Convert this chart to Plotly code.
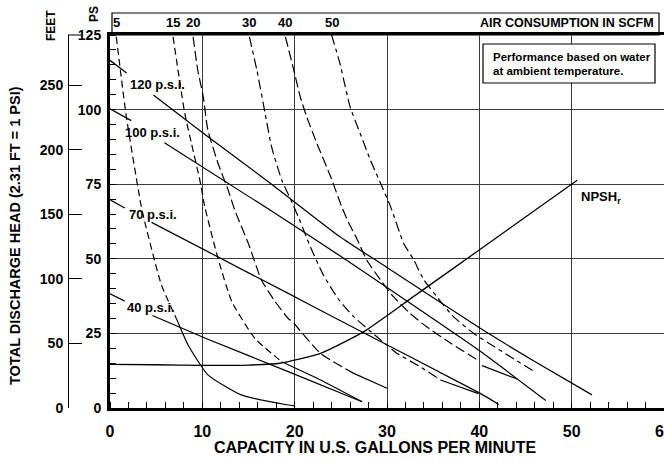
import plotly.graph_objects as go

FONT = "Liberation Sans, Arial, Helvetica, sans-serif"

# ---------------- axes / tick data ----------------
gpm_ticks = [0, 10, 20, 30, 40, 50, 60]
psi_ticks = [0, 25, 50, 75, 100, 125]
feet_ticks = [0, 50, 100, 150, 200, 250]
FT_PER_PSI = 2.31
PSI_MAX = 125
GPM_MAX = 60

# ---------------- air pressure curves (solid) ----------------
p120_x = [0, 1.8, None, 4.7, 10, 17.5, 24.9, 30, 40.1, 46, 52.2]
p120_y = [116.5, 112.3, None, 104.9, 92.3, 75, 57.4, 47.1, 26.7, 15.6, 4.4]

p100_x = [0, 2.3, None, 5.9, 17.5, 24.9, 40.1, 47.2]
p100_y = [100.3, 96.3, None, 88.9, 66.0, 51.0, 19.0, 2.5]

p70_x = [0, 1.6, None, 4.5, 19.3, 24.8, 40.1, 42.1]
p70_y = [69.8, 67.0, None, 62.2, 38.4, 29.5, 4.9, 1.2]

p40_x = [0, 1.6, None, 4.6, 10.4, 19.3, 27.3]
p40_y = [38.3, 35.8, None, 31.0, 23.3, 12.2, 2.1]

pressure_labels = ["120 p.s.i.", "100 p.s.i.", "70 p.s.i.", "40 p.s.i."]

# ---------------- NPSHr ----------------
npsh_x = [0, 5, 10, 15, 18.4, 22.8, 27.5, 32.9, 40.1, 45, 50.6]
npsh_y = [14.6, 14.5, 14.3, 14.4, 15.0, 18.3, 25.6, 37.4, 53.2, 64.0, 76.3]

# ---------------- air consumption curves (SCFM) ----------------
air_labels = ["5", "15", "20", "30", "40", "50"]

a5_x = [0.68, 1.77, 3.39, 3.76, 5.57, 7.19]
a5_y = [124.4, 97.6, 67.4, 62.4, 41.2, 30.0]
a5_tx = [7.19, 8.46, 10.6, 14.2, 19.3, 20.0]
a5_ty = [30.0, 21.1, 11.1, 4.4, 1.0, 0.7]

a15_x = [6.83, 8.10, 8.82, 9.73, 10.27, 11.7, 13.2, 15.7, 18.6]
a15_y = [124.4, 98.7, 88.7, 76.4, 67.4, 50.1, 35.6, 23.3, 15.5]
a15_tx = [18.6, 22.8, 27.3]
a15_ty = [15.5, 9.4, 2.1]

a20_x = [9.0, 9.5, 10.1, 10.6, 11.7, 12.8, 13.5, 15.0, 16.4, 17.9, 19.3, 19.9, 22.8, 26.4]
a20_y = [124.4, 113.3, 104.3, 93.1, 82.0, 73.0, 66.4, 55.0, 42.9, 35.6, 30.0, 28.4, 18.3, 11.6]
a20_tx = [26.4, 30.0]
a20_ty = [11.6, 6.6]

a30_x = [15.1, 15.9, 16.8, 17.5, 18.6, 19.6, 20.6, 21.7, 23.1, 24.8, 26.4, 28.9, 31.1, 33.6, 35.8]
a30_y = [124.4, 113.3, 98.7, 87.5, 76.4, 69.7, 62.5, 54.0, 44.6, 36.2, 30.6, 23.9, 18.3, 13.8, 9.4]
a30_tx = [35.8, 39.9]
a30_ty = [9.4, 4.8]

a40_x = [19.0, 19.9, 20.6, 21.3, 22.4, 23.9, 25.1, 25.8, 26.8, 27.8, 29.3, 30.7, 32.5, 34.3, 36.9, 39.8]
a40_y = [124.4, 113.3, 104.3, 97.6, 88.7, 77.5, 67.4, 62.4, 56.3, 49.6, 42.9, 37.3, 31.7, 27.2, 21.7, 16.1]
a40_tx = [40.3, 44.1]
a40_ty = [14.2, 9.7]

a50_x = [24.0, 24.9, 26.0, 27.1, 28.2, 29.3, 30.4, 31.8, 32.9, 34.0, 35.4, 37.2, 39.4, 46.1]
a50_y = [125.0, 115.5, 100.9, 92.0, 83.1, 75.3, 67.4, 55.2, 49.6, 42.9, 37.3, 30.6, 25.0, 11.9]

# ---------------- figure ----------------
W, H = 664, 462
M_T, M_B = 35, 54
PLOT_H = H - M_T - M_B


def px(xp):
    return xp / W


def py(yp):
    return (H - M_B - yp) / PLOT_H


fig = go.Figure()


def add_line(x, y, dash="solid", width=1.2, smooth=True):
    fig.add_trace(go.Scatter(
        x=x, y=y, mode="lines", connectgaps=False, hoverinfo="skip", showlegend=False,
        line=dict(color="black", width=width, dash=dash,
                  shape="spline" if smooth else "linear", smoothing=0.5)))


for xs, ys in [(p120_x, p120_y), (p100_x, p100_y), (p70_x, p70_y), (p40_x, p40_y)]:
    add_line(xs, ys, width=1.25)

add_line(npsh_x, npsh_y, width=1.3)

dash_a = "7px,4px"
dash_b = "10px,4px"
dash_c = "10px,4px,4px,4px"
air_curves = [
    (a5_x, a5_y, a5_tx, a5_ty, dash_a),
    (a15_x, a15_y, a15_tx, a15_ty, dash_a),
    (a20_x, a20_y, a20_tx, a20_ty, dash_b),
    (a30_x, a30_y, a30_tx, a30_ty, dash_c),
    (a40_x, a40_y, a40_tx, a40_ty, dash_b),
    (a50_x, a50_y, None, None, dash_c),
]
for xs, ys, tx, ty, d in air_curves:
    add_line(xs, ys, dash=d, width=1.2)
    if tx is not None:
        add_line(tx, ty, width=1.2)

# invisible trace for the feet axis
fig.add_trace(go.Scatter(x=[0, 0], y=[0, PSI_MAX * FT_PER_PSI], yaxis="y2", mode="lines",
                         line=dict(color="rgba(0,0,0,0)"), hoverinfo="skip", showlegend=False))

fig.update_layout(
    width=W, height=H,
    margin=dict(l=0, r=0, t=M_T, b=M_B, pad=0, autoexpand=False),
    paper_bgcolor="white", plot_bgcolor="white",
    font=dict(family=FONT, color="black"),
    showlegend=False,
    xaxis=dict(
        domain=[px(110), 1], range=[0, GPM_MAX], tickvals=gpm_ticks,
        showgrid=True, gridcolor="#3a3a3a", gridwidth=1.2, zeroline=False,
        showline=True, linecolor="black", linewidth=3, mirror=True,
        ticks="", ticklabelstandoff=7, ticklabeloverflow="allow",
        minor=dict(dtick=2, ticks="inside", ticklen=6, tickcolor="black", tickwidth=1, showgrid=False),
        tickfont=dict(size=16, weight="bold", family=FONT),
    ),
    yaxis=dict(
        range=[0, PSI_MAX], tickvals=psi_ticks,
        showgrid=True, gridcolor="#3a3a3a", gridwidth=1.2, zeroline=False,
        showline=True, linecolor="black", linewidth=3,
        ticks="", ticklabelstandoff=3,
        minor=dict(dtick=5, ticks="inside", ticklen=6, tickcolor="black", tickwidth=1, showgrid=False),
        tickfont=dict(size=14, weight="bold", family=FONT),
    ),
    yaxis2=dict(
        overlaying="y", anchor="free", position=px(68), side="left",
        range=[0, PSI_MAX * FT_PER_PSI], tickvals=feet_ticks,
        showgrid=False, zeroline=False,
        showline=True, linecolor="black", linewidth=1,
        ticks="inside", ticklen=13, tickcolor="black", tickwidth=1, ticklabelstandoff=2,
        tickfont=dict(size=14, weight="bold", family=FONT),
    ),
)

shapes = [
    # top air consumption box
    dict(type="rect", xref="paper", yref="paper", x0=px(112), x1=px(659), y0=1.0, y1=py(13),
         line=dict(color="black", width=1.2), fillcolor="white", layer="below"),
    # legend / note box
    dict(type="rect", xref="paper", yref="paper", x0=px(483), x1=px(655), y0=py(83), y1=py(44),
         line=dict(color="black", width=1.2), fillcolor="white", layer="above"),
    # 125 tick stub joining feet axis
    dict(type="line", xref="paper", yref="paper", x0=px(68), x1=px(81), y0=1.0, y1=1.0,
         line=dict(color="black", width=1)),
]
fig.update_layout(shapes=shapes)

ann = []
label_pos = [(1.98, 108.5), (1.44, 92.3), (1.81, 64.7), (1.63, 33.8)]
for t, (lx, ly) in zip(pressure_labels, label_pos):
    ann.append(dict(x=lx, y=ly, xref="x", yref="y", text="<b>%s</b>" % t, showarrow=False,
                    xanchor="left", yanchor="middle", font=dict(size=13)))

ann.append(dict(x=50.8, y=70.4, xref="x", yref="y", text="<b>NPSH<sub>r</sub></b>", showarrow=False,
                xanchor="left", yanchor="middle", font=dict(size=13)))

air_tops = [a5_x[0], a15_x[0], a20_x[0], a30_x[0], a40_x[0], a50_x[0]]
for t, xt in zip(air_labels, air_tops):
    ann.append(dict(x=xt, y=py(23), xref="x", yref="paper", text="<b>%s</b>" % t, showarrow=False,
                    xanchor="center", yanchor="middle", font=dict(size=13)))

ann.append(dict(x=px(656), y=py(23), xref="paper", yref="paper", text="<b>AIR CONSUMPTION IN SCFM</b>",
                showarrow=False, xanchor="right", yanchor="middle", font=dict(size=12.5)))

ann.append(dict(x=px(491), y=py(57), xref="paper", yref="paper", text="<b>Performance based on water</b>",
                showarrow=False, xanchor="left", yanchor="middle", font=dict(size=11.5)))
ann.append(dict(x=px(491), y=py(71), xref="paper", yref="paper", text="<b>at ambient temperature.</b>",
                showarrow=False, xanchor="left", yanchor="middle", font=dict(size=11.5)))

ann.append(dict(x=px(94), y=py(14), xref="paper", yref="paper", text="<b>PS</b>", textangle=-90,
                showarrow=False, xanchor="center", yanchor="middle", font=dict(size=12)))
ann.append(dict(x=px(51), y=py(26), xref="paper", yref="paper", text="<b>FEET</b>", textangle=-90,
                showarrow=False, xanchor="center", yanchor="middle", font=dict(size=12)))
ann.append(dict(x=px(15), y=py(236), xref="paper", yref="paper",
                text="<b>TOTAL DISCHARGE HEAD (2.31 FT = 1 PSI)</b>", textangle=-90,
                showarrow=False, xanchor="center", yanchor="middle", font=dict(size=14.5)))
ann.append(dict(x=px(375), y=py(447), xref="paper", yref="paper",
                text="<b>CAPACITY IN U.S. GALLONS PER MINUTE</b>",
                showarrow=False, xanchor="center", yanchor="middle", font=dict(size=16)))

fig.update_layout(annotations=ann)

fig.write_html(
    "out.html",
    config={"displayModeBar": False},
    post_script="document.body.style.margin='0';document.body.style.overflow='hidden';",
)
